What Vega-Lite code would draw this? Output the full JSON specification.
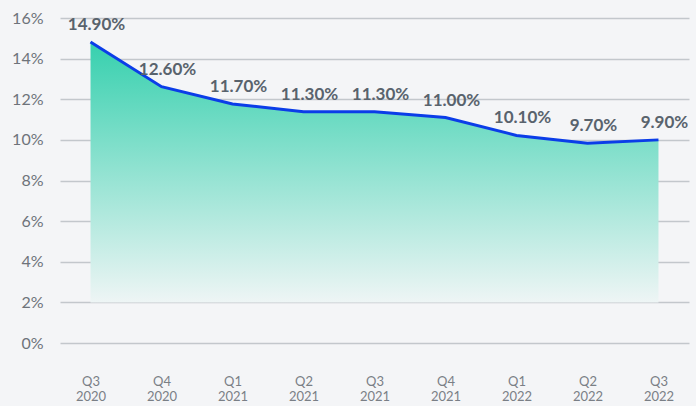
{
  "$schema": "https://vega.github.io/schema/vega-lite/v6.json",
  "width": 629,
  "height": 325,
  "autosize": {"type": "none"},
  "padding": {"left": 60, "top": 18, "right": 7, "bottom": 63},
  "background": "#f4f5f7",
  "config": {"view": {"stroke": null}, "font": "Lato"},
  "data": {
    "values": [
      {"quarter": "Q3 2020", "rate": 14.82, "label": "14.90%"},
      {"quarter": "Q4 2020", "rate": 12.62, "label": "12.60%"},
      {"quarter": "Q1 2021", "rate": 11.77, "label": "11.70%"},
      {"quarter": "Q2 2021", "rate": 11.39, "label": "11.30%"},
      {"quarter": "Q3 2021", "rate": 11.39, "label": "11.30%"},
      {"quarter": "Q4 2021", "rate": 11.1, "label": "11.00%"},
      {"quarter": "Q1 2022", "rate": 10.22, "label": "10.10%"},
      {"quarter": "Q2 2022", "rate": 9.84, "label": "9.70%"},
      {"quarter": "Q3 2022", "rate": 10.0, "label": "9.90%"}
    ]
  },
  "encoding": {
    "x": {
      "field": "quarter",
      "type": "ordinal",
      "sort": null,
      "scale": {"type": "point", "padding": 0.43},
      "axis": {
        "title": null,
        "domain": false,
        "ticks": false,
        "labelAngle": 0,
        "labelExpr": "split(datum.value, ' ')",
        "labelFontSize": 13,
        "labelLineHeight": 15,
        "labelColor": "#7a7f86",
        "labelPadding": 32,
        "labelBaseline": "top"
      }
    }
  },
  "layer": [
    {
      "mark": {
        "type": "area",
        "color": {
          "gradient": "linear",
          "x1": 0, "y1": 1, "x2": 0, "y2": 0,
          "stops": [
            {"offset": 0, "color": "#eef5f5"},
            {"offset": 1, "color": "#36d0ae"}
          ]
        }
      },
      "encoding": {
        "y": {
          "field": "rate",
          "type": "quantitative",
          "scale": {"domain": [0, 16], "nice": false},
          "axis": {
            "title": null,
            "values": [0, 2, 4, 6, 8, 10, 12, 14, 16],
            "labelExpr": "datum.value + '%'",
            "domain": false,
            "ticks": false,
            "labelPadding": 17,
            "labelFontSize": 16,
            "labelColor": "#6e737a",
            "gridColor": "#c3c7cc",
            "gridWidth": 1.5
          }
        },
        "y2": {"datum": 2}
      }
    },
    {
      "mark": {"type": "line", "color": "#0b3de8", "strokeWidth": 3},
      "encoding": {"y": {"field": "rate", "type": "quantitative"}}
    },
    {
      "mark": {
        "type": "text",
        "fontSize": 17,
        "fontWeight": "bold",
        "color": "#59636d",
        "dx": 6,
        "dy": -17,
        "baseline": "middle"
      },
      "encoding": {
        "y": {"field": "rate", "type": "quantitative"},
        "text": {"field": "label"}
      }
    }
  ]
}
